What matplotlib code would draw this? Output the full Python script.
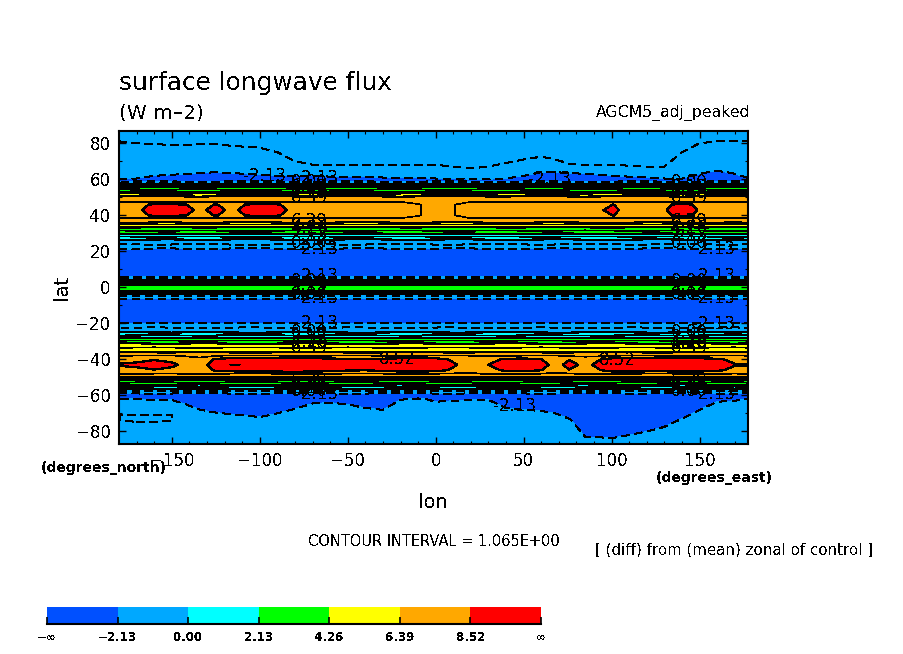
import numpy as np
import matplotlib
matplotlib.use("Agg")
import matplotlib.pyplot as plt

W, H = 904, 654

plt.rcParams["text.antialiased"] = False
plt.rcParams["lines.antialiased"] = False
plt.rcParams["font.family"] = ["DejaVu Sans"]

# ---- grid columns (degrees east), closer together where the red patches break ----
lons = [-180, -170, -160, -150, -142, -134, -125, -116, -100, -90, -80, -70, -60, -50, -40, -30, -20, -10, 0,
        10, 20, 30, 40, 50, 60, 68, 76, 85, 101, 110, 120, 130, 140, 150, 160, 170, 180]

# ---- north polar rows ----
polar_n_lat = [84, 78, 72, 66, 64, 62, 60.5]
polar_n = [
    [-.95,-.91,-.89,-.87,-.87,-.89,-.89,-.85,-.81,-.71,-.51,-.43,-.43,-.43,-.43,-.43,-.43,-.43,-.43,-.39,-.35,-.39,-.47,-.55,-.61,-.55,-.45,-.43,-.43,-.41,-.39,-.39,-.71,-.91,-.95,-.95,-.95],
    [-1.19,-1.15,-1.13,-1.11,-1.11,-1.13,-1.13,-1.09,-1.05,-.95,-.75,-.67,-.67,-.67,-.67,-.67,-.67,-.67,-.67,-.63,-.59,-.63,-.71,-.79,-.85,-.79,-.69,-.67,-.67,-.65,-.63,-.63,-.95,-1.15,-1.19,-1.19,-1.19],
    [-1.43,-1.39,-1.37,-1.35,-1.35,-1.37,-1.37,-1.33,-1.29,-1.19,-.99,-.91,-.91,-.91,-.91,-.91,-.91,-.91,-.91,-.87,-.83,-.87,-.95,-1.03,-1.09,-1.03,-.93,-.91,-.91,-.89,-.87,-.87,-1.19,-1.39,-1.43,-1.43,-1.43],
    [-1.67,-1.63,-1.61,-1.59,-1.59,-1.61,-1.61,-1.57,-1.53,-1.43,-1.23,-1.15,-1.15,-1.15,-1.15,-1.15,-1.15,-1.15,-1.15,-1.11,-1.07,-1.11,-1.19,-1.27,-1.33,-1.27,-1.17,-1.15,-1.15,-1.13,-1.11,-1.11,-1.43,-1.63,-1.67,-1.67,-1.67],
    [-1.13,-1.26,-1.63,-1.76,-1.88,-2.0,-2.13,-2.0,-1.76,-1.63,-1.63,-1.63,-1.51,-1.51,-1.51,-1.38,-1.38,-1.38,-1.26,-1.26,-1.13,-1.13,-1.26,-1.63,-2.13,-2.13,-2.0,-1.88,-1.63,-1.51,-1.38,-1.26,-1.26,-1.88,-2.43,-1.88,-1.13],
    [-1.63,-1.76,-2.13,-2.28,-2.43,-2.58,-2.73,-2.58,-2.28,-2.13,-2.13,-2.13,-2.0,-2.0,-2.0,-1.88,-1.88,-1.88,-1.76,-1.76,-1.63,-1.63,-1.76,-2.13,-2.73,-2.73,-2.58,-2.43,-2.13,-2.0,-1.88,-1.76,-1.76,-2.43,-3.03,-2.43,-1.63],
    [-2.0,-2.13,-2.58,-2.73,-2.88,-2.9,-2.9,-2.9,-2.73,-2.58,-2.58,-2.58,-2.43,-2.43,-2.43,-2.28,-2.28,-2.28,-2.13,-2.13,-2.0,-2.0,-2.13,-2.58,-2.9,-2.9,-2.9,-2.88,-2.58,-2.43,-2.28,-2.13,-2.13,-2.88,-3.1,-2.88,-2.0],
]

# ---- north mid-latitude orange belt ----
belt_n_lat = [47.5, 46, 43, 40, 38.5]
belt_n_edge = [7.46]*17 + [7.3, 7.0, 7.3] + [7.46]*17
belt_n_shoulder = [7.74,8.14,8.7,8.7,8.54,8.14,8.58,8.14,8.94,8.62,8.06,7.9,7.82,7.74,7.74,7.74,7.66,7.5,7.26,7.42,7.82,7.82,7.82,7.82,7.82,7.74,7.82,7.9,8.54,7.9,7.98,8.22,8.94,8.22,7.9,7.66,7.74]
belt_n_peak = [7.8,8.3,9.0,9.0,8.8,8.3,8.85,8.3,9.3,8.9,8.2,8.0,7.9,7.8,7.8,7.8,7.7,7.5,7.2,7.4,7.9,7.9,7.9,7.9,7.9,7.8,7.9,8.0,8.8,8.0,8.1,8.4,9.3,8.4,8.0,7.7,7.8]

# ---- south mid-latitude belt with the long red tongue ----
belt_s_lat = [-40, -43, -46]
belt_s_shoulder = [8.21,8.3,8.47,8.3,7.96,7.62,8.72,9.06,9.2,9.2,9.2,9.06,8.89,8.64,8.55,8.81,9.06,9.06,8.98,8.3,7.62,8.14,8.72,8.89,8.55,7.79,8.47,7.87,9.06,9.15,9.06,9.06,9.15,9.06,8.72,8.21,8.21]
belt_s_peak = [8.6,8.7,8.9,8.7,8.3,7.9,9.2,9.62,9.5,9.5,9.5,9.5,9.4,9.1,9.0,9.3,9.5,9.5,9.5,8.7,7.9,8.52,9.2,9.4,9.0,8.1,8.9,8.2,9.5,9.5,9.5,9.5,9.5,9.5,9.2,8.6,8.6]

# ---- south polar rows ----
polar_s_lat = [-62, -65, -68, -71, -74, -78, -82, -85]
polar_s = [
    [-2.09,-2.13,-2.17,-2.17,-2.37,-2.61,-2.73,-2.81,-2.93,-2.77,-2.57,-2.33,-2.29,-2.37,-2.53,-2.61,-2.17,-2.05,-2.25,-2.21,-2.17,-2.17,-2.53,-2.61,-2.66,-2.77,-3.01,-3.3,-3.3,-3.3,-3.3,-3.3,-3.01,-2.61,-2.25,-2.21,-2.09],
    [-1.85,-1.89,-1.93,-1.93,-2.13,-2.37,-2.49,-2.57,-2.69,-2.53,-2.33,-2.09,-2.05,-2.13,-2.29,-2.37,-1.93,-1.81,-2.01,-1.97,-1.93,-1.93,-2.29,-2.37,-2.42,-2.53,-2.77,-3.2,-3.2,-3.2,-3.1,-3.1,-2.77,-2.37,-2.01,-1.97,-1.85],
    [-1.61,-1.65,-1.69,-1.69,-1.89,-2.13,-2.25,-2.33,-2.45,-2.29,-2.09,-1.85,-1.81,-1.89,-2.05,-2.13,-1.69,-1.57,-1.77,-1.73,-1.69,-1.69,-2.05,-2.13,-2.18,-2.29,-2.53,-3.1,-3.1,-3.0,-2.9,-2.86,-2.53,-2.13,-1.77,-1.73,-1.61],
    [-1.07,-1.0,-1.0,-1.05,-1.65,-1.89,-2.01,-2.09,-2.21,-2.05,-1.85,-1.61,-1.57,-1.65,-1.81,-1.89,-1.45,-1.4,-1.53,-1.49,-1.45,-1.45,-1.81,-1.89,-1.94,-2.05,-2.29,-2.86,-2.86,-2.76,-2.66,-2.62,-2.29,-1.89,-1.53,-1.49,-1.4],
    [-1.07,-1.0,-1.0,-1.05,-1.41,-1.65,-1.77,-1.85,-1.97,-1.81,-1.61,-1.4,-1.4,-1.41,-1.57,-1.65,-1.4,-1.4,-1.4,-1.4,-1.4,-1.4,-1.57,-1.65,-1.7,-1.81,-2.05,-2.62,-2.62,-2.52,-2.42,-2.38,-2.05,-1.65,-1.4,-1.4,-1.4],
    [-1.4,-1.4,-1.4,-1.4,-1.4,-1.4,-1.45,-1.53,-1.65,-1.49,-1.4,-1.4,-1.4,-1.4,-1.4,-1.4,-1.4,-1.4,-1.4,-1.4,-1.4,-1.4,-1.4,-1.4,-1.4,-1.49,-1.73,-2.5,-2.58,-2.45,-2.29,-2.09,-1.73,-1.4,-1.4,-1.4,-1.4],
    [-1.4,-1.4,-1.4,-1.4,-1.4,-1.4,-1.4,-1.4,-1.4,-1.4,-1.4,-1.4,-1.4,-1.4,-1.4,-1.4,-1.4,-1.4,-1.4,-1.4,-1.4,-1.4,-1.4,-1.4,-1.4,-1.4,-1.41,-2.21,-2.26,-2.13,-1.97,-1.77,-1.41,-1.4,-1.4,-1.4,-1.4],
    [-1.45,-1.45,-1.45,-1.45,-1.45,-1.45,-1.45,-1.45,-1.45,-1.45,-1.45,-1.45,-1.45,-1.45,-1.45,-1.45,-1.45,-1.45,-1.45,-1.45,-1.45,-1.45,-1.45,-1.45,-1.45,-1.45,-1.45,-1.97,-2.02,-1.89,-1.73,-1.6,-1.45,-1.45,-1.45,-1.45,-1.45],
]

# ---- rows that hardly change with longitude: one value per latitude ----
zonal_lat = [87.9, 59.5, 58.8, 58.0, 57.2, 56.4, 55.6, 54.4, 53.2, 52, 50.8,
             36, 35, 33.5, 31.5, 29.8, 28.2, 26.6, 24, 21.5,
             20, 8, 6, 5, 4, 3, 1.6, 0, -2, -2.8, -3.5, -4.5, -6.4, -8, -18, -20,
             -22.5, -25, -26.6, -28, -29.6, -31.2, -33.5, -36, -38, -48,
             -50, -50.8, -51.6, -52.8, -54, -55.2, -56.5, -57.6, -58.8, -60, -87.9]
zonal_val = [-0.4, -2.35, -2.13, -1.065, 0, 1.065, 2.13, 3.2, 4.26, 5.3, 6.39,
             6.39, 5.3, 4.26, 3.2, 2.13, 1.065, 0, -1.065, -2.13,
             -2.6, -2.6, -2.13, -1.065, 0, 1.065, 2.13, 3.0, 2.13, 1.065, 0, -1.065, -2.13, -2.6, -2.6, -2.13,
             -1.065, 0, 1.065, 2.13, 3.2, 4.26, 5.3, 6.39, 7.46, 7.46,
             6.39, 5.3, 4.26, 3.2, 2.13, 1.065, 0, -1.065, -2.13, -2.6, -1.5]

# east-west wobble of the contour bands poleward of 20 degrees
wobble_a = [.1,.12,-.05,-.1,.05,.15,.1,-.08,-.15,-.02,.1,.15,.05,-.1,-.15,-.05,.1,.12,-.02,-.12,-.08,.05,.15,.1,-.05,-.15,-.1,.08,.15,.05,-.1,-.12,.02,.12,.05,-.05,.1]
wobble_b = [-.05,.05,.15,.08,-.1,-.15,-.02,.1,.12,.05,-.1,-.12,.02,.15,.1,-.08,-.15,-.05,.1,.15,.02,-.1,-.12,.05,.15,.08,-.1,-.15,-.02,.12,.1,-.05,-.15,-.05,.1,.15,-.05]

# ---- contour and colour key ----
fill_levels = [-2.13, 0, 2.13, 4.26, 6.39, 8.52]
fill_colors = ["#0050ff", "#00a8ff", "#00ffff", "#00ff00", "#ffff00", "#ffa800", "#ff0000"]
key_labels = ["\u2212\u221e", "\u22122.13", "0.00", "2.13", "4.26", "6.39", "8.52", "\u221e"]

# ---- inline contour labels: text, lon, lat ----
label_text = ["-2.13", "-2.13", "-2.13", "8.52", "8.52"]
label_lon = [-97, 65, 45, -21.6, 103]
label_lat = [62, 60.3, -65.8, -39.7, -40.3]
stack_text = ["0.00", "2.13", "4.26", "6.39", "6.39", "4.26", "2.13", "0.00",
              "0.00", "2.13", "2.13", "0.00",
              "0.00", "2.13", "4.26", "6.39", "6.39", "4.26", "2.13", "0.00"]
stack_lat = [58.6, 55.8, 53, 49.7, 37, 33, 29, 24.7,
             3.6, 1.4, -1.4, -3.6,
             -24.7, -27.5, -30.3, -33.6, -51.4, -54.2, -55.8, -57.5]
minus_lat_left = [60.8, 21.4, 6.4, -5.8, -19.7, -59.2]
minus_lat_right = [21.4, 6.4, -5.8, -20.5, -59.2]

# ---- assemble the grid ----
rows = []
for lat, row in zip(polar_n_lat, polar_n):
    rows.append((lat, np.array(row)))
for lat, row in zip(belt_n_lat, [belt_n_edge, belt_n_shoulder, belt_n_peak, belt_n_shoulder, belt_n_edge]):
    rows.append((lat, np.array(row)))
for lat, row in zip(belt_s_lat, [belt_s_shoulder, belt_s_peak, belt_s_shoulder]):
    rows.append((lat, np.array(row)))
for lat, row in zip(polar_s_lat, polar_s):
    rows.append((lat, np.array(row)))
for i, (lat, val) in enumerate(zip(zonal_lat, zonal_val)):
    wobbly = 20 < abs(lat) < 59
    wob = np.array(wobble_a if i % 2 else wobble_b) if wobbly else np.zeros(len(lons))
    rows.append((lat, val + wob))
rows.sort(key=lambda r: r[0])
lats = [r[0] for r in rows]
flux = np.array([r[1] for r in rows])

fig = plt.figure(figsize=(W / 100, H / 100), dpi=100)
ax = fig.add_axes([119 / W, 1 - 444 / H, (748 - 119) / W, (444 - 131) / H])

ax.contourf(lons, lats, flux, levels=fill_levels, colors=fill_colors, extend="both", antialiased=False)

# every 2.13 is heavy, the levels between are thin, negatives dashed
ax.contour(lons, lats, flux, levels=[-2.13], colors="k", linewidths=0.9, linestyles=[(0, (6, 4))], antialiased=False)
ax.contour(lons, lats, flux, levels=[-1.065], colors="k", linewidths=0.45, linestyles=[(0, (12, 9))], antialiased=False)
ax.contour(lons, lats, flux, levels=[0, 2.13, 4.26, 6.39, 8.52], colors="k", linewidths=0.9, linestyles="solid", antialiased=False)
ax.contour(lons, lats, flux, levels=[1.065, 3.195, 5.325, 7.455, 9.585], colors="k", linewidths=0.45, linestyles="solid", antialiased=False)

for txt, lo, la in zip(label_text, label_lon, label_lat):
    ax.text(lo, la, txt, fontsize=12, ha="center", va="center")
for base_lon in (-71.6, 144):
    for txt, la in zip(stack_text, stack_lat):
        ax.text(base_lon, la, txt, fontsize=12, ha="center", va="center")
for la in minus_lat_left:
    ax.text(-67.6, la, "-2.13", fontsize=12, ha="center", va="center")
for la in minus_lat_right:
    ax.text(158, la, "-2.13", fontsize=12, ha="center", va="center")

ax.set_xlim(-180, 177.5)
ax.set_ylim(-87, 86.9)
ax.set_xticks([-150, -100, -50, 0, 50, 100, 150])
ax.set_xticks(np.arange(-170, 180, 10), minor=True)
ax.set_yticks([-80, -60, -40, -20, 0, 20, 40, 60, 80])
ax.set_yticks(np.arange(-80, 90, 10), minor=True)
ax.tick_params(which="major", direction="in", length=5, width=1, top=True, right=True, labelsize=12, pad=6)
ax.tick_params(which="minor", direction="in", length=2.5, width=0.8, top=True, right=True)
for s in ax.spines.values():
    s.set_linewidth(1.5)

fig.text(119 / W, 1 - 83 / H, "surface longwave flux", fontsize=17.8, va="center")
fig.text(119 / W, 1 - 113 / H, "(W m\u20132)", fontsize=14.5, va="center")
fig.text(750 / W, 1 - 113 / H, "AGCM5_adj_peaked", fontsize=11.3, ha="right", va="center")
fig.text(62 / W, 1 - 287 / H, "lat", fontsize=14, rotation=90, ha="center", va="center")
fig.text(433 / W, 1 - 502 / H, "lon", fontsize=14, ha="center", va="center")
fig.text(104 / W, 1 - 468 / H, "(degrees_north)", fontsize=10, fontweight="bold", ha="center", va="center")
fig.text(714 / W, 1 - 478 / H, "(degrees_east)", fontsize=10, fontweight="bold", ha="center", va="center")
fig.text(434 / W, 1 - 542 / H, "CONTOUR INTERVAL = 1.065E+00", fontsize=10.5, ha="center", va="center")
fig.text(734 / W, 1 - 550 / H, "[ (diff) from (mean) zonal of control ]", fontsize=10.8, ha="center", va="center")

# colour key along the bottom
cax = fig.add_axes([47 / W, 1 - 624 / H, (541 - 47) / W, (624 - 607) / H])
cax.bar(np.arange(7) + 0.5, [1] * 7, width=1, color=fill_colors, antialiased=False)
cax.set_xlim(0, 7)
cax.set_ylim(0, 1)
cax.set_yticks([])
cax.set_xticks(np.arange(8))
cax.set_xticklabels(key_labels, fontsize=8.5, fontweight="bold")
cax.tick_params(axis="x", direction="in", length=5, width=1.2, pad=5)
for side in ("top", "left", "right"):
    cax.spines[side].set_visible(False)
cax.spines["bottom"].set_linewidth(1.5)

fig.savefig("out.png", dpi=100)
